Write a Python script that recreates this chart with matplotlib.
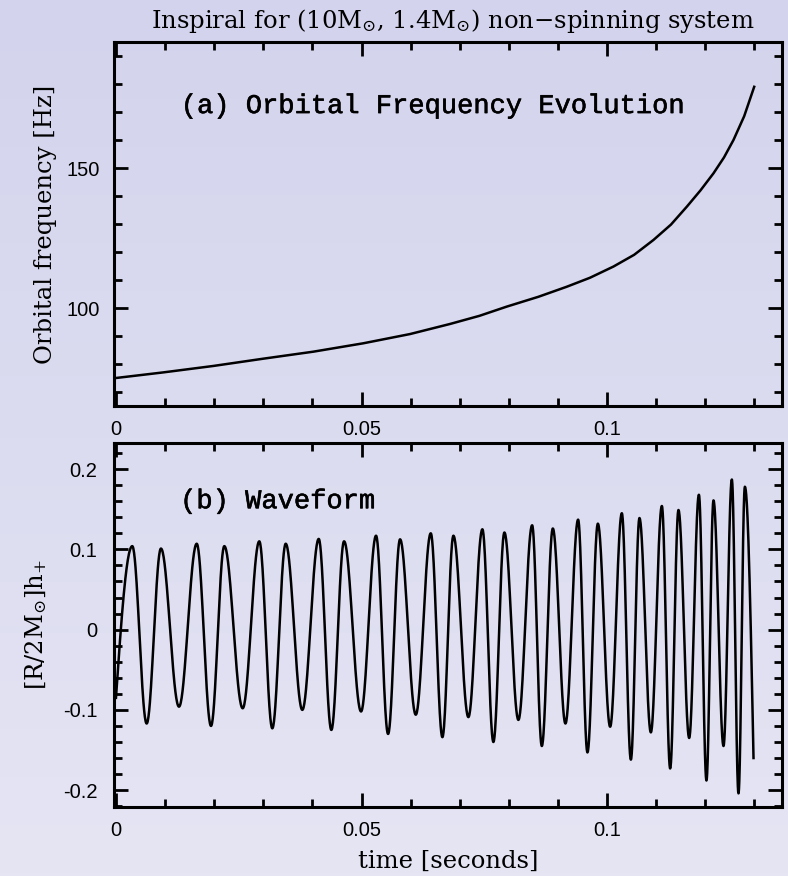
import numpy as np
import matplotlib
matplotlib.use("Agg")
import matplotlib.pyplot as plt
import matplotlib.patheffects as pe
from matplotlib.ticker import MultipleLocator, FixedLocator

plt.rcParams['mathtext.fontset'] = 'dejavuserif'

# ---- data ----
# (a) orbital frequency [Hz] vs time [s]
freq_t = [0.0, 0.00963, 0.01982, 0.0300, 0.04018, 0.05037, 0.05988, 0.06802,
          0.0740, 0.07957, 0.0860, 0.09179, 0.0965, 0.10128, 0.1055, 0.10943,
          0.1130, 0.11623, 0.1190, 0.12165, 0.1238, 0.12572, 0.1279, 0.12994]
freq_f = [75.0, 77.0, 79.3, 81.9, 84.4, 87.4, 90.7, 94.3,
          97.2, 100.5, 104.0, 107.6, 110.8, 114.8, 119.0, 124.3,
          129.8, 136.2, 142.0, 148.1, 153.8, 160.0, 168.5, 179.0]

# (b) waveform: start point, successive extrema, end point
wave_t = [0.0, 0.00332, 0.00625, 0.00916, 0.01283, 0.01644, 0.01935, 0.02206,
          0.0258, 0.02918, 0.03183, 0.03456, 0.03794, 0.04128, 0.04385, 0.04644,
          0.0499, 0.05295, 0.0554, 0.05784, 0.06104, 0.06409, 0.06646, 0.06870,
          0.07175, 0.0746, 0.07684, 0.07908, 0.08193, 0.08473, 0.0867, 0.08894,
          0.09151, 0.09409, 0.09599, 0.09811, 0.10061, 0.10299, 0.10483, 0.10658,
          0.1089, 0.11114, 0.11283, 0.11452, 0.1167, 0.11868, 0.12022, 0.12165,
          0.12369, 0.12539, 0.12674, 0.12804, 0.1298]
wave_h = [-0.085, 0.104, -0.117, 0.101, -0.096, 0.107, -0.120, 0.104,
          -0.098, 0.110, -0.123, 0.107, -0.100, 0.113, -0.125, 0.110,
          -0.102, 0.117, -0.130, 0.1125, -0.106, 0.120, -0.134, 0.117,
          -0.109, 0.125, -0.140, 0.121, -0.1125, 0.130, -0.145, 0.126,
          -0.117, 0.137, -0.153, 0.132, -0.121, 0.145, -0.162, 0.139,
          -0.128, 0.154, -0.173, 0.149, -0.135, 0.168, -0.188, 0.161,
          -0.145, 0.187, -0.204, 0.178, -0.160]

freq_yticks = [100, 150]
wave_yticks = [-0.2, -0.1, 0, 0.1, 0.2]
wave_yticklabels = ['-0.2', '-0.1', '0', '0.1', '0.2']
time_ticks = [0, 0.05, 0.1]
time_ticklabels = ['0', '0.05', '0.1']

# ---- smooth rendering between successive extrema ----
def render_wave(tk, hk, n=40):
    xs, ys = [], []
    last = len(tk) - 2
    for i in range(len(tk) - 1):
        u = np.linspace(0, 1, n, endpoint=(i == last))
        if i == 0:
            s = np.sin(np.pi / 2 * u)
        elif i == last:
            s = 1 - np.cos(np.pi / 2 * u)
        else:
            s = (1 - np.cos(np.pi * u)) / 2
        xs.append(tk[i] + (tk[i + 1] - tk[i]) * u)
        ys.append(hk[i] + (hk[i + 1] - hk[i]) * s)
    return np.concatenate(xs), np.concatenate(ys)

W, H = 788, 876
fig = plt.figure(figsize=(W / 100, H / 100), dpi=100)

# background gradient
bg = fig.add_axes([0, 0, 1, 1], zorder=-10)
grad = np.linspace(0, 1, 256)[:, None]
c_top = np.array([211, 211, 237]) / 255
c_bot = np.array([229, 229, 244]) / 255
img = c_top[None, None, :] * (1 - grad[:, :, None]) + c_bot[None, None, :] * grad[:, :, None]
bg.imshow(img, aspect='auto', extent=[0, 1, 0, 1], origin='upper')
bg.set_axis_off()

serif = 'DejaVu Serif'
sans = 'Liberation Sans'
mono = 'Liberation Mono'
thicken = [pe.withStroke(linewidth=0.4, foreground='black')]

def px(x0, y0, x1, y1):
    return [x0 / W, 1 - y1 / H, (x1 - x0) / W, (y1 - y0) / H]

ax1 = fig.add_axes(px(114, 42, 782, 406))
ax2 = fig.add_axes(px(114, 443, 782, 807))

xlim = (-0.0004, 0.1356)
for ax in (ax1, ax2):
    ax.set_facecolor('none')
    ax.set_xlim(*xlim)
    for sp in ax.spines.values():
        sp.set_linewidth(2.2)
    ax.xaxis.set_major_locator(FixedLocator(time_ticks))
    ax.set_xticklabels(time_ticklabels, fontfamily=sans, fontsize=14.5)
    ax.xaxis.set_minor_locator(MultipleLocator(0.01))
    ax.tick_params(which='both', direction='in', top=True, right=True, width=2.0)
    ax.tick_params(which='major', length=10)
    ax.tick_params(which='minor', length=5.5)
    ax.tick_params(axis='x', which='major', pad=10)

# (a)
ax1.plot(freq_t, freq_f, color='black', lw=1.8)
ax1.set_ylim(65, 195)
ax1.yaxis.set_major_locator(FixedLocator(freq_yticks))
ax1.set_yticklabels([str(v) for v in freq_yticks], fontfamily=sans, fontsize=14.5)
ax1.yaxis.set_minor_locator(MultipleLocator(10))
ax1.tick_params(axis='y', which='major', pad=10)
ax1.set_ylabel('Orbital frequency [Hz]', fontfamily=serif, fontsize=17.5, labelpad=7)
ax1.text(0.10, 0.824, '(a) Orbital Frequency Evolution', transform=ax1.transAxes,
         fontfamily=mono, fontsize=19.5, ha='left', va='center', path_effects=thicken)

# (b)
xw, yw = render_wave(wave_t, wave_h)
ax2.plot(xw, yw, color='black', lw=1.8)
ax2.set_ylim(-0.221, 0.2325)
ax2.yaxis.set_major_locator(FixedLocator(wave_yticks))
ax2.set_yticklabels(wave_yticklabels, fontfamily=sans, fontsize=14.5)
ax2.yaxis.set_minor_locator(MultipleLocator(0.02))
ax2.tick_params(axis='y', which='major', pad=12)
ax2.set_ylabel(r'[R/2M$_{\odot}$]h$_{+}$', fontfamily=serif, fontsize=17.5, labelpad=10)
ax2.set_xlabel('time [seconds]', fontfamily=serif, fontsize=17.5, labelpad=7)
ax2.text(0.099, 0.84, '(b) Waveform', transform=ax2.transAxes,
         fontfamily=mono, fontsize=19.5, ha='left', va='center', path_effects=thicken)

fig.text(453 / W, 1 - 21 / H, r'Inspiral for (10M$_{\odot}$, 1.4M$_{\odot}$) non$-$spinning system',
         fontfamily=serif, fontsize=17.5, ha='center', va='center')

fig.savefig('out.png', dpi=100)
